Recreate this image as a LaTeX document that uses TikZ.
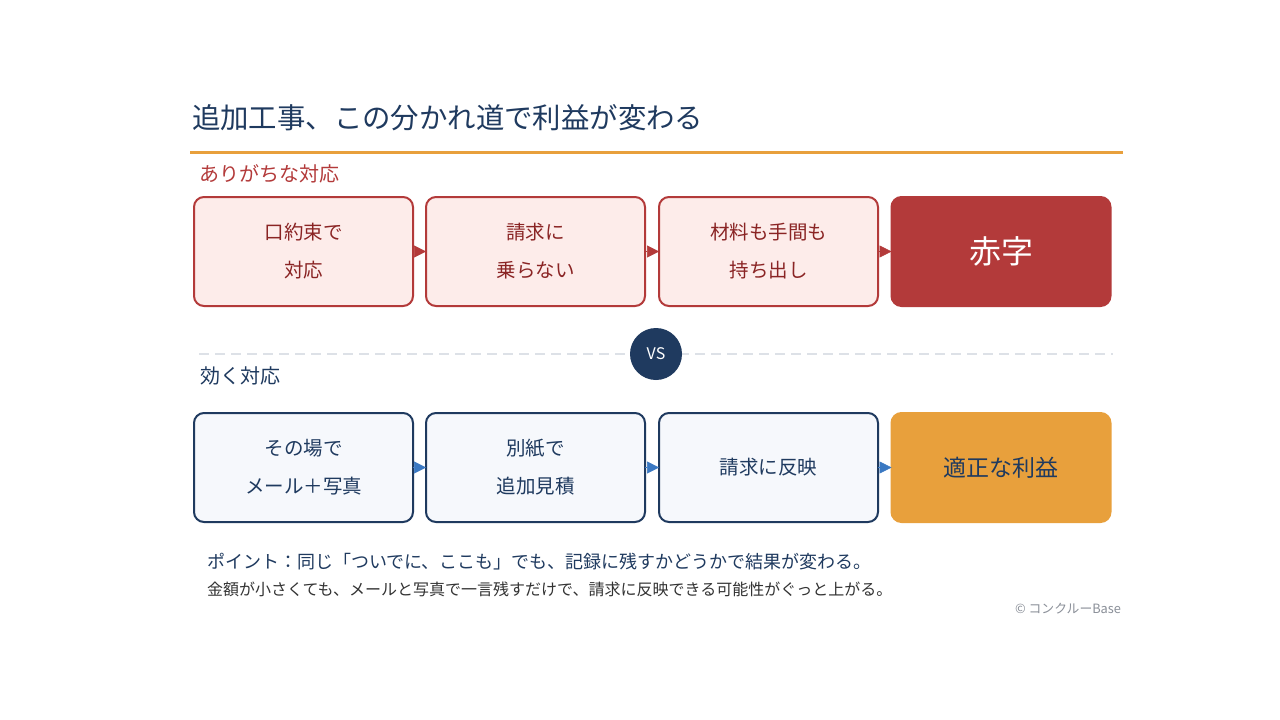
\documentclass[tikz,border=0pt]{standalone}
\usepackage{fontspec}
\setmainfont{Noto Sans CJK JP}
\usetikzlibrary{arrows.meta}
\definecolor{navy}{HTML}{1F3A5F}
\definecolor{cred}{HTML}{B33A3A}
\definecolor{redfill}{HTML}{FDECEA}
\definecolor{redtext}{HTML}{8A2424}
\definecolor{corange}{HTML}{E8A03C}
\definecolor{bluefill}{HTML}{F6F8FC}
\definecolor{carrowblue}{HTML}{3A78C2}
\definecolor{dashgray}{HTML}{DDE1E7}
\definecolor{bodygray}{HTML}{333333}
\definecolor{copygray}{HTML}{8A8F98}
\begin{document}
\begin{tikzpicture}[x=1pt,y=-1pt,
  every node/.style={inner sep=0pt, outer sep=0pt},
  basebox/.style={line width=2pt, rounded corners=10pt, minimum width=219pt, minimum height=109pt, align=center},
  redbox/.style={basebox, draw=cred, fill=redfill, text=redtext, font=\fontsize{19.5}{38}\selectfont},
  bluebox/.style={basebox, draw=navy, fill=bluefill, text=navy, font=\fontsize{19.5}{38}\selectfont},
  redend/.style={basebox, draw=cred, fill=cred, text=white, font=\fontsize{32}{38}\selectfont},
  orangeend/.style={basebox, draw=corange, fill=corange, text=navy, font=\fontsize{23}{30}\selectfont},
  redarrow/.style={draw=cred, line width=0.5pt, -{Triangle[length=12pt,width=12pt]}, fill=cred},
  bluearrow/.style={draw=carrowblue, line width=0.5pt, -{Triangle[length=12pt,width=12pt]}, fill=carrowblue},
  label/.style={anchor=west, font=\fontsize{20}{24}\selectfont}
]
\useasboundingbox (0,0) rectangle (1280,720);
\fill[white] (0,0) rectangle (1280,720);

\node[anchor=west, text=navy, font=\fontsize{28.4}{34}\selectfont] (title) at (192,118) {追加工事、この分かれ道で利益が変わる};
\draw[corange, line width=3pt] (190,152) -- (1123,152);

\node[label, text=cred] (lab1) at (199,174) {ありがちな対応};

\node[redbox] (r1) at (303.5,251.5) {口約束で\\対応};
\node[redbox] (r2) at (535.5,251.5) {請求に\\乗らない};
\node[redbox] (r3) at (768.5,251.5) {材料も手間も\\持ち出し};
\node[redend] (r4) at (1001,251.5) {赤字};
\draw[redarrow] (r1.east) -- (r2.west);
\draw[redarrow] (r2.east) -- (r3.west);
\draw[redarrow] (r3.east) -- (r4.west);

\draw[dashgray, line width=2pt, dash pattern=on 10pt off 6pt] (199,354) -- (1113,354);
\node[circle, fill=navy, minimum size=52pt, text=white, font=\fontsize{16}{18}\selectfont] (vs) at (656,354) {VS};

\node[label, text=navy] (lab2) at (200,376) {効く対応};

\node[bluebox] (b1) at (303.5,467.5) {その場で\\メール＋写真};
\node[bluebox] (b2) at (535.5,467.5) {別紙で\\追加見積};
\node[bluebox] (b3) at (768.5,467.5) {請求に反映};
\node[orangeend] (b4) at (1001,467.5) {適正な利益};
\draw[bluearrow] (b1.east) -- (b2.west);
\draw[bluearrow] (b2.east) -- (b3.west);
\draw[bluearrow] (b3.east) -- (b4.west);

\node[anchor=west, text=navy, font=\fontsize{18}{22}\selectfont] (note1) at (207,562) {ポイント：同じ「ついでに、ここも」でも、記録に残すかどうかで結果が変わる。};
\node[anchor=west, text=bodygray, font=\fontsize{16}{20}\selectfont] (note2) at (207,589) {金額が小さくても、メールと写真で一言残すだけで、請求に反映できる可能性がぐっと上がる。};
\node[anchor=east, text=copygray, font=\fontsize{12.8}{15}\selectfont] (copy) at (1121,609) {© コンクルーBase};
\end{tikzpicture}
\end{document}
